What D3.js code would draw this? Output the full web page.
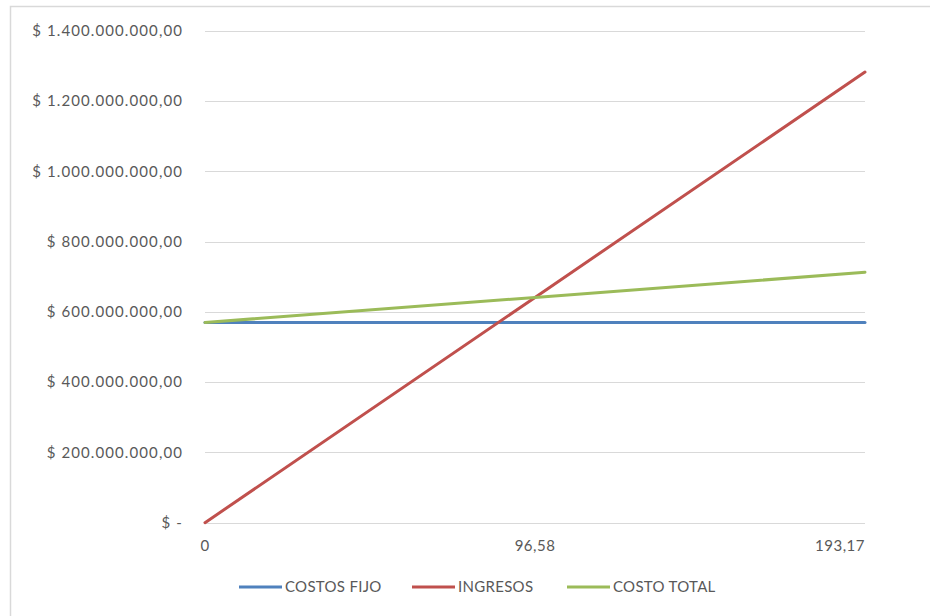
<!DOCTYPE html>
<html>
<head>
<meta charset="utf-8">
<script src="https://cdn.jsdelivr.net/npm/d3@7"></script>
<style>
  html, body { margin: 0; padding: 0; background: #fff; }
  svg { display: block; }
  text { font-family: Lato, "Open Sans", sans-serif; fill: #595959; }
</style>
</head>
<body>
<svg id="chart" width="930" height="616"></svg>
<script>
// Break-even chart: units on the category axis, pesos on the value axis
const categories = [0, 96.58, 193.17];
const costosFijo = [570000000, 570000000, 570000000];
const ingresos   = [0, 641500000, 1283000000];
const costoTotal = [570000000, 641500000, 713000000];
const yTicks = [0, 200000000, 400000000, 600000000, 800000000, 1000000000, 1200000000, 1400000000];

const series = [
  { name: "COSTOS FIJO", values: costosFijo, color: "#4F81BD" },
  { name: "INGRESOS",    values: ingresos,   color: "#C0504D" },
  { name: "COSTO TOTAL", values: costoTotal, color: "#9BBB59" }
];

const svg = d3.select("#chart");

// chart area frame
svg.append("rect")
  .attr("x", 10.5).attr("y", 6.5)
  .attr("width", 960).attr("height", 660)
  .attr("fill", "none").attr("stroke", "#d9d9d9").attr("stroke-width", 1.5);

const x = d3.scalePoint().domain(categories).range([205, 865]);
const y = d3.scaleLinear().domain([0, 1400000000]).range([522.7, 31]);

// Spanish-style currency labels: "$ 1.400.000.000,00", zero shown as "$ -"
const fmtNum = d3.formatLocale({ decimal: ",", thousands: ".", grouping: [3], currency: ["$", ""] }).format(",.2f");
const fmtMoney = v => v === 0 ? "$ -" : "$ " + fmtNum(v);

// gridlines
svg.append("g").selectAll("line").data(yTicks).join("line")
  .attr("x1", 205).attr("x2", 865)
  .attr("y1", d => Math.round(y(d)) + 0.5).attr("y2", d => Math.round(y(d)) + 0.5)
  .attr("stroke", "#d9d9d9").attr("stroke-width", 1.2);

// value axis labels
svg.append("g").selectAll("text").data(yTicks).join("text")
  .attr("x", 183).attr("y", d => y(d))
  .attr("dy", "0.35em")
  .attr("text-anchor", "end")
  .style("font-size", "15px")
  .style("letter-spacing", "1.1px")
  .text(fmtMoney);

// category axis labels
const fmtCat = d3.formatLocale({ decimal: ",", thousands: ".", grouping: [3], currency: ["", ""] }).format("~f");
svg.append("g").selectAll("text").data(categories).join("text")
  .attr("x", d => x(d))
  .attr("y", 551)
  .attr("text-anchor", (d, i) => i === categories.length - 1 ? "end" : "middle")
  .style("font-size", "15px")
  .style("letter-spacing", "0.5px")
  .text(d => fmtCat(d));

// series lines
const line = d3.line().x((d, i) => x(categories[i])).y(d => y(d));
svg.append("g").selectAll("path").data(series).join("path")
  .attr("d", s => line(s.values))
  .attr("fill", "none")
  .attr("stroke", s => s.color)
  .attr("stroke-width", 3)
  .attr("stroke-linecap", "round");

// legend
const legendX = [239, 412, 567];
const lg = svg.append("g").selectAll("g").data(series).join("g")
  .attr("transform", (s, i) => `translate(${legendX[i]},587)`);
lg.append("line")
  .attr("x1", 0).attr("x2", 43).attr("y1", 0).attr("y2", 0)
  .attr("stroke", s => s.color).attr("stroke-width", 3);
lg.append("text")
  .attr("x", 46).attr("y", 0).attr("dy", "0.35em")
  .style("font-size", "15px")
  .style("letter-spacing", "0.3px")
  .text(s => s.name);
</script>
</body>
</html>
